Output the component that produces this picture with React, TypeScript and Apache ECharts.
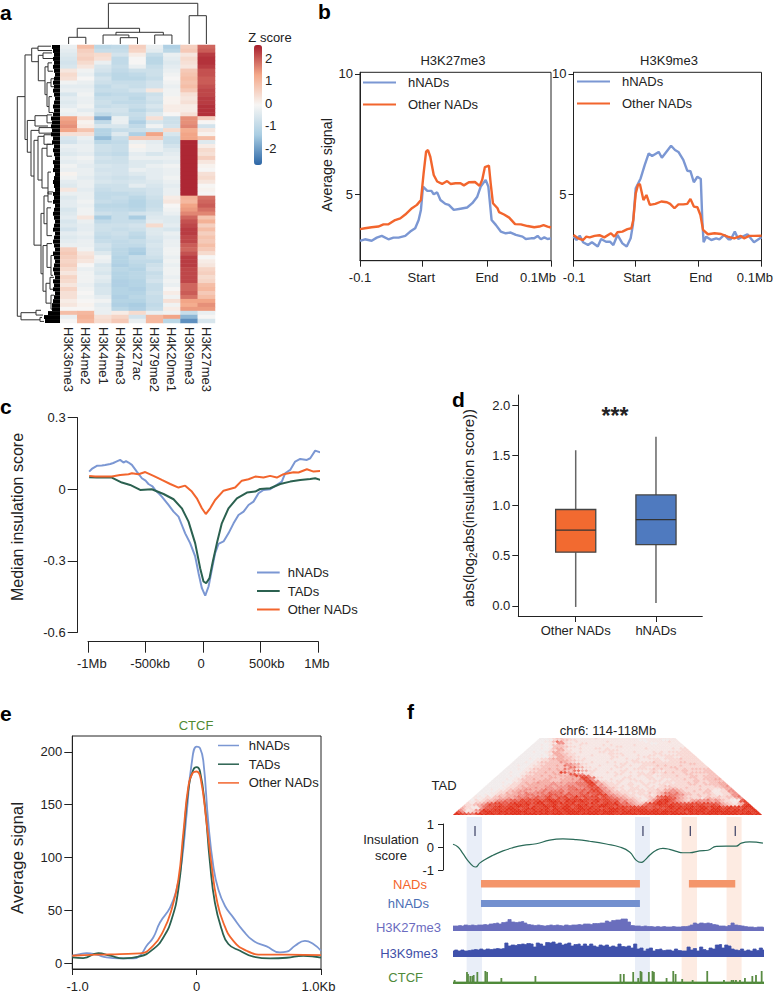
import React, { useEffect, useRef } from "react";
import * as echarts from "echarts";

const INK = "#222";
const FONT = "'Liberation Sans', Arial, sans-serif";
const HNAD_BLUE = "#7b97d3";
const NAD_ORANGE = "#f2652d";
const TAD_GREEN = "#2b6150";

// a: heat map
const histoneMarks = ["H3K36me3", "H3K4me2", "H3K4me1", "H3K4me3", "H3K27ac", "H3K79me2", "H4K20me1", "H3K9me3", "H3K27me3"];
const heatRows = [
  [-0.3, 0.9, -1.1, -1.0, 0.6, -0.3, -1.3, 0.6, 1.9],
  [-0.4, 0.6, -0.9, -0.9, 0.5, -0.4, -1.1, 0.7, 2.0],
  [-0.5, 0.5, 0.4, -0.7, 0.1, -0.9, -0.3, 0.2, 2.3],
  [-0.6, 0.6, 0.3, -1.0, -0.1, -1.1, -0.4, 0.4, 2.4],
  [-0.7, 0.4, -0.3, -1.0, -0.1, -1.1, -0.5, 0.3, 2.4],
  [-0.6, 0.2, -0.6, -0.9, -0.3, -0.9, -0.4, 0.2, 2.3],
  [0.2, -0.2, -0.7, -1.0, -0.8, -0.8, -0.3, 0.7, 2.1],
  [0.4, -0.3, -0.9, -1.1, -1.0, -0.8, -0.2, 0.8, 2.1],
  [0.3, -0.1, -0.7, -1.1, -1.1, -0.9, -0.1, 0.9, 2.0],
  [-0.2, -0.3, -0.8, -0.9, -0.9, -0.7, -0.2, 0.8, 2.0],
  [-0.4, -0.4, -1.0, -0.8, -0.9, -0.7, -0.3, 0.9, 2.1],
  [-0.3, -0.3, -0.9, -0.9, -0.7, 0.2, -0.2, 0.7, 2.2],
  [-0.6, -0.2, -1.1, -1.0, -1.0, -0.8, -0.2, 0.3, 2.2],
  [-0.4, -0.3, -0.9, -0.9, -1.1, -0.7, 0.0, 0.2, 2.3],
  [-0.5, -0.3, -0.8, -1.0, -1.0, -0.8, 0.0, 0.3, 2.3],
  [-0.4, -0.2, -0.9, -0.8, -0.9, -0.6, 0.1, 0.1, 2.4],
  [-0.2, -0.4, -0.7, -0.7, -1.1, -0.8, 0.1, 0.1, 2.4],
  [-0.3, -0.2, -1.0, -0.8, -0.9, -0.5, -0.1, 0.3, 2.4],
  [1.3, 0.3, -1.8, -0.3, -1.0, 0.3, -0.8, 1.5, 0.6],
  [1.4, 0.0, -1.0, -0.3, -1.3, -0.6, -0.8, 1.5, -0.1],
  [1.5, 0.1, -0.6, -0.6, -1.0, -0.2, -0.7, 1.6, -0.7],
  [1.3, 0.8, -1.2, -0.9, -0.8, -0.7, 0.4, 1.2, 0.2],
  [0.3, 0.3, -1.2, -0.5, -1.3, 1.3, -0.6, 1.3, 0.0],
  [-0.6, -0.3, -1.6, -0.9, 0.7, 0.7, -0.9, 1.3, 0.9],
  [-0.7, -0.4, -1.1, -1.0, -0.3, -0.4, -0.9, 2.5, -0.5],
  [-0.3, -0.3, -0.8, -0.9, 0.0, -0.3, -0.7, 2.5, 0.1],
  [-0.4, -0.3, -0.8, -0.9, -0.2, -0.3, -0.5, 2.5, 0.4],
  [-0.5, -0.4, -0.9, -1.0, -0.4, -0.6, -0.4, 2.5, 0.3],
  [-0.3, -0.2, -0.7, -0.8, -0.3, -0.3, -0.3, 2.5, 0.6],
  [-0.4, -0.3, -0.8, -0.8, -0.5, -0.5, -0.4, 2.5, 0.2],
  [-0.2, -0.4, -0.6, -0.7, -0.5, -0.3, -0.2, 2.5, 0.0],
  [-0.3, -0.3, -0.7, -0.7, -0.3, -0.4, -0.3, 2.5, -0.1],
  [0.0, -0.3, -0.6, -0.7, -0.5, -0.4, -0.3, 2.5, 0.3],
  [-0.2, -0.4, -0.7, -0.8, -0.7, -0.4, -0.2, 2.5, 0.4],
  [-0.4, -0.3, -0.6, -0.7, -0.6, -0.5, -0.3, 2.5, 0.2],
  [-0.5, -0.3, -0.8, -0.8, -0.4, -0.6, -0.4, 2.5, -0.1],
  [0.2, -0.4, -0.9, -0.8, -0.8, -0.7, -0.3, 2.5, 0.0],
  [-0.3, -0.3, -1.0, -1.0, -0.9, -0.7, -0.3, 2.5, -0.1],
  [-0.5, -0.3, -1.0, -0.9, -1.1, -0.8, 0.1, 1.1, 1.8],
  [-0.4, -0.2, -0.9, -1.0, -1.2, -0.9, 0.2, 1.0, 1.9],
  [-0.4, -0.3, -1.1, -1.1, -1.2, -0.9, -0.1, 1.3, 2.0],
  [-0.6, -0.2, -1.0, -1.0, -1.1, -0.8, -0.2, 1.4, 1.8],
  [-0.5, -0.2, -0.8, -0.9, -0.7, -0.6, -0.3, 1.6, 1.6],
  [-0.4, 0.2, -1.4, -0.9, -1.4, -0.5, -0.5, 1.9, 0.8],
  [-0.6, -0.3, -1.0, -0.9, -0.9, -0.4, -0.5, 2.1, 1.1],
  [-0.5, -0.4, -0.8, -0.8, -0.7, 0.4, -0.4, 2.2, 0.6],
  [-0.7, -0.4, -0.8, -0.9, -0.8, -0.5, -0.6, 2.3, 0.9],
  [-0.4, -0.3, -0.9, -0.8, -1.0, -0.5, -0.3, 2.3, 0.6],
  [-0.5, -0.4, -1.0, -0.9, -1.1, -0.6, -0.4, 2.2, 0.8],
  [-0.4, -0.3, -0.9, -1.0, -0.9, -0.7, -0.3, 2.2, 0.7],
  [-0.3, -0.3, -0.7, -1.0, -1.0, -0.6, -0.3, 2.0, 0.9],
  [0.6, -0.2, -0.8, -1.1, -1.3, -0.7, -0.2, 1.9, 0.7],
  [0.7, 0.2, -0.5, -1.1, -1.4, -0.7, -0.2, 2.1, 0.4],
  [0.6, 0.3, -0.2, -1.2, -0.9, -0.8, -0.3, 2.3, -0.1],
  [0.5, 0.2, -0.3, -1.2, -1.0, -1.0, -0.2, 2.3, 0.1],
  [0.6, -0.1, -0.6, -1.3, -1.1, -0.8, -0.3, 2.3, 0.2],
  [0.4, -0.3, -0.5, -1.1, -1.2, -0.7, -0.2, 2.2, 0.5],
  [0.2, -0.2, -0.6, -1.2, -1.1, -0.9, -0.2, 2.2, 0.6],
  [0.5, -0.2, -0.4, -1.2, -1.1, -0.8, -0.3, 2.2, 0.4],
  [0.4, -0.2, -0.5, -1.3, -1.2, -0.7, -0.2, 2.2, 0.5],
  [0.2, -0.3, -0.7, -1.3, -1.2, -0.9, -0.3, 1.9, 0.9],
  [0.5, -0.2, -0.6, -1.2, -1.3, -0.9, -0.1, 1.9, 1.0],
  [0.3, -0.1, -0.6, -1.2, -1.2, -0.8, 0.1, 2.0, 0.7],
  [0.3, -0.2, -0.4, -1.3, -1.1, -0.9, -0.2, 1.8, 0.9],
  [0.1, -0.1, -0.2, -1.2, -1.2, -0.9, 0.3, 1.3, 1.3],
  [0.2, 0.0, -0.4, -1.3, -1.4, -1.0, -0.2, 1.2, 1.5],
  [-0.1, -0.1, -0.3, -1.1, -1.3, -0.9, 0.1, 1.4, 1.4],
  [0.9, 1.0, -0.3, 0.1, 0.4, -0.3, -0.2, -0.9, -0.3],
  [-0.3, 1.1, 0.3, 0.5, -0.7, 1.0, 1.3, -1.7, -0.1],
  [-0.1, 1.0, 0.4, 0.7, -0.3, 1.0, -1.1, -2.2, -0.6],
];
const heatColors = ["#2c66a6", "#a9cde2", "#f7f6f4", "#f4a98a", "#a71d2d"];
const zScoreTicks = [-2, -1, 0, 1, 2];

// dendrogram brackets: [height, posA, posB, heightA, heightB]
const columnTree = [
  [6.7, 0.5, 1.5, 0, 0],
  [6.3, 3.5, 4.5, 0, 0],
  [9, 2.5, 4, 0, 6.3],
  [9, 5.5, 6.5, 0, 0],
  [11.7, 3.25, 6, 9, 9],
  [15.7, 1, 4.62, 6.7, 11.7],
  [28.3, 7.5, 8.5, 0, 0],
  [40.7, 2.81, 8, 15.7, 28.3],
];
const rowTree = [
  [42.7, 13, 68.3, 35, 39],
  [35, 2.5, 23.8, 28.3, 32.7],
  [28.3, 0.8, 4.2, 22, 21.7],
  [22, 0.3, 1.4, 9, 8],
  [21.7, 2.6, 9, 17, 15],
  [17, 2, 3.4, 8, 7],
  [15, 5.5, 12.5, 12, 13],
  [12, 4.5, 6.6, 8, 7],
  [13, 9.5, 15.5, 9, 11],
  [9, 8.5, 10.5, 6, 6],
  [11, 13, 17, 8, 7],
  [32.7, 19, 27, 25, 29],
  [25, 17.8, 20.4, 13, 12],
  [13, 17.6, 19.6, 8, 8],
  [29, 21.5, 33, 21, 26],
  [21, 20.8, 22.2, 9, 8],
  [26, 24, 50.4, 22, 19],
  [22, 23, 34, 16, 18],
  [16, 22.6, 25, 8, 9],
  [18, 26, 36, 13, 12],
  [13, 25, 28, 7, 8],
  [12, 32, 37.5, 9, 8],
  [19, 42.4, 57.6, 16, 17],
  [16, 38, 45, 12, 13],
  [12, 37, 39.5, 7, 8],
  [13, 41, 48, 9, 8],
  [17, 50.5, 62, 13, 14],
  [13, 50, 56, 8, 9],
  [9, 53, 58, 6, 7],
  [14, 60, 65, 10, 9],
  [10, 58.5, 61.5, 6, 7],
  [9, 63, 66.5, 6, 6],
  [39, 67.4, 69.2, 24, 20],
  [24, 66.8, 68, 19, 17],
  [20, 68.6, 69.6, 18, 16],
];
const leafDepth = [
  8, 7, 6, 7, 6, 7, 6, 5, 6, 7, 6, 7, 6, 5, 6, 7, 6, 7,
  9, 8, 9, 8, 9, 7, 8, 6, 7, 6, 5, 7, 6, 7, 5, 6, 7, 6, 5, 7,
  6, 7, 5, 6, 7, 6, 5, 6, 7, 5, 6, 7, 6, 5, 7, 6, 5, 6, 7, 6, 5, 7, 6, 7, 5, 6,
  7, 8, 8, 12, 16, 15,
];

// b: enrichment profiles, position in percent of the panel width
const bTicks = [0, 32.8, 66.4, 100];
const bLeftLabels = [0, 32.1, 66.5, 93.2];
const bRightLabels = [0.3, 33.7, 67.7, 96.5];
const bTickNames = ["-0.1", "Start", "End", "0.1Mb"];
const k27Hnads = [
  [0, 3.06], [2.6, 3.13], [6.1, 3.07], [8.8, 3.2], [11.4, 3.27], [14.9, 3.13], [17.5, 3.2], [20.2, 3.2],
  [23.7, 3.27], [26.3, 3.45], [28.9, 3.59], [30.7, 3.93], [31.9, 4.35], [33, 5.32], [35.1, 5.15], [37.4, 5.14],
  [38.6, 5.0], [40.4, 5.08], [42.1, 4.76], [44.7, 4.6], [46.5, 4.56], [49.1, 4.35], [52.6, 4.4], [56.1, 4.45],
  [58.8, 4.63], [61.4, 4.9], [63.2, 5.32], [65.8, 5.6], [67.2, 5.32], [68.9, 3.93], [71.1, 3.73], [73.7, 3.45],
  [76.3, 3.38], [78.9, 3.41], [81.6, 3.31], [85.1, 3.24], [86.8, 3.14], [89.5, 3.17], [91.2, 3.17], [93, 3.27],
  [94.7, 3.13], [96.5, 3.21], [98.2, 3.14], [100, 3.17],
];
const k27Other = [
  [0, 3.55], [2.6, 3.59], [6.1, 3.63], [9.6, 3.66], [12.3, 3.75], [14.9, 3.75], [18.4, 3.93], [21.1, 4.0],
  [23.7, 4.16], [27.2, 4.42], [29.8, 4.56], [31.9, 4.76], [33.3, 5.87], [34.6, 6.77], [35.6, 6.84], [36.8, 6.56],
  [38.6, 5.8], [40.4, 5.53], [43, 5.43], [45.6, 5.55], [47.4, 5.43], [50, 5.46], [52.6, 5.46], [54.4, 5.37],
  [57, 5.5], [60.2, 5.51], [62.6, 5.35], [64, 5.6], [65.4, 6.13], [67.5, 6.19], [68.4, 5.46], [69.6, 4.63],
  [72, 4.42], [72.8, 4.26], [75.4, 4.16], [78.1, 4.03], [81.2, 3.76], [84.2, 3.75], [87.7, 3.68], [91.2, 3.63],
  [93.9, 3.66], [96.1, 3.72], [98.2, 3.66], [100, 3.62],
];
const k9Hnads = [
  [0, 3.24], [1.6, 3.1], [3.3, 3.28], [5.1, 3.01], [7.7, 2.89], [9.8, 3.01], [12.9, 2.83], [14.7, 3.14],
  [17.3, 3.03], [19.4, 3.03], [21.2, 2.89], [23.4, 3.31], [26, 2.96], [28.3, 2.83], [30.4, 3.17], [31.6, 3.73],
  [33.1, 5.25], [35.7, 5.66], [37.9, 6.22], [40, 6.7], [41.8, 6.59], [45.3, 6.76], [47, 6.52], [51.9, 7.02],
  [54, 6.84], [55.8, 6.76], [58.4, 6.43], [60.5, 5.98], [62.2, 5.96], [64, 5.5], [65.9, 5.73], [67.7, 5.64],
  [68.5, 3.93], [69.2, 3.01], [70.6, 3.24], [73.3, 3.1], [75.9, 3.17], [77.6, 3.13], [80.2, 3.31], [82.5, 3.13],
  [83.7, 3.13], [85.8, 3.45], [87.6, 3.14], [89.9, 3.24], [92.5, 3.34], [96, 3.01], [100, 3.21],
];
const k9Other = [
  [0, 3.31], [2.4, 3.17], [5.1, 3.1], [6.8, 3.24], [8.6, 3.21], [11.2, 3.27], [13.8, 3.3], [16.4, 3.21],
  [19.9, 3.38], [21.7, 3.24], [23.4, 3.42], [26, 3.45], [28.7, 3.55], [30.8, 3.59], [31.8, 3.93], [33.1, 5.04],
  [34.3, 5.39], [35.3, 5.43], [37.2, 4.76], [38.8, 4.97], [40.6, 4.56], [43.5, 4.6], [46.7, 4.7], [49.7, 4.67],
  [51.4, 4.6], [53.7, 4.42], [55.8, 4.58], [58.4, 4.58], [60.5, 4.6], [62.2, 4.81], [64, 4.49], [65.9, 4.46],
  [67.5, 4.14], [68.9, 3.52], [71.5, 3.34], [75, 3.38], [78.5, 3.35], [82, 3.24], [85.5, 3.17], [89, 3.27],
  [90.7, 3.17], [93.4, 3.27], [96, 3.27], [100, 3.28],
];

// c: median insulation score, position in kb
const cTicks = [-1000, -500, 0, 500, 1000];
const cLabelPositions = [-967, -460, -17, 553, 987];
const cLabelNames = ["-1Mb", "-500kb", "0", "500kb", "1Mb"];
const insulationHnads = [
  [-990, 0.074], [-967, 0.085], [-923, 0.098], [-880, 0.1], [-851, 0.102], [-807, 0.106], [-780, 0.11], [-764, 0.114],
  [-721, 0.123], [-692, 0.112], [-670, 0.118], [-648, 0.112], [-619, 0.102], [-576, 0.074], [-532, 0.046], [-500, 0.036],
  [-475, 0.022], [-440, 0.012], [-417, -0.003], [-380, -0.02], [-359, -0.031], [-301, -0.066], [-257, -0.094], [-214, -0.115],
  [-185, -0.15], [-156, -0.185], [-113, -0.226], [-69, -0.282], [-40, -0.352], [-11, -0.415], [18, -0.446], [47, -0.408],
  [75, -0.338], [104, -0.268], [133, -0.229], [177, -0.219], [220, -0.185], [264, -0.143], [307, -0.108], [351, -0.094],
  [394, -0.066], [437, -0.052], [481, -0.017], [524, -0.003], [582, 0], [640, 0.018], [683, 0.032], [712, 0.067],
  [756, 0.081], [799, 0.116], [843, 0.127], [901, 0.123], [930, 0.13], [973, 0.162], [1016, 0.155],
];
const insulationTads = [
  [-990, 0.05], [-923, 0.049], [-793, 0.049], [-706, 0.028], [-634, 0.018], [-547, -0.003], [-446, 0], [-344, -0.02],
  [-257, -0.042], [-185, -0.08], [-127, -0.136], [-69, -0.227], [-26, -0.331], [3, -0.387], [26, -0.394], [55, -0.373],
  [84, -0.303], [119, -0.227], [162, -0.143], [220, -0.08], [293, -0.038], [380, -0.014], [452, -0.01], [495, 0.001],
  [582, 0.004], [669, 0.022], [756, 0.032], [843, 0.039], [930, 0.043], [973, 0.046], [1022, 0.039],
];
const insulationOther = [
  [-990, 0.056], [-938, 0.053], [-793, 0.053], [-721, 0.06], [-648, 0.063], [-619, 0.067], [-561, 0.063], [-503, 0.072],
  [-431, 0.056], [-359, 0.039], [-286, 0.022], [-214, 0.007], [-156, 0.015], [-98, -0.01], [-55, -0.038], [-11, -0.08],
  [23, -0.104], [61, -0.08], [104, -0.045], [177, -0.006], [278, 0.007], [336, 0.036], [394, 0.042], [452, 0.053],
  [524, 0.049], [582, 0.056], [640, 0.049], [698, 0.063], [785, 0.071], [828, 0.07], [901, 0.084], [959, 0.074], [1022, 0.077],
];
const cScoreTicks = [-0.6, -0.3, 0, 0.3];

// d: box plots [category, min, q1, median, q3, max]
const boxNames = ["Other NADs", "hNADs"];
const boxStats = [
  [1, -0.01, 0.535, 0.755, 0.96, 1.55],
  [2, 0.03, 0.61, 0.86, 1.105, 1.685],
];
const boxColors = ["#f26a30", "#4f7abf"];
const dTicks = [0, 0.5, 1, 1.5, 2];

// e: CTCF profiles, position in kb
const eYTicks = [0, 50, 100, 150, 200];
const eXTicks = [-1, 0, 1];
const eLabelPositions = [-0.957, 0, 0.979];
const eLabelNames = ["-1.0", "0", "1.0Kb"];
const ctcfHnads = [
  [-1, 6.9], [-0.938, 8.5], [-0.885, 9.4], [-0.804, 7.9], [-0.724, 5.3], [-0.617, 4.4], [-0.509, 4.4], [-0.456, 6.9],
  [-0.402, 16.4], [-0.349, 24.2], [-0.295, 38.4], [-0.214, 52.5], [-0.161, 69.8], [-0.121, 95], [-0.08, 142], [-0.04, 189],
  [0, 205], [0.027, 203.5], [0.054, 191], [0.094, 132.7], [0.134, 91.8], [0.174, 69.8], [0.228, 54], [0.295, 43],
  [0.375, 30.5], [0.456, 21], [0.563, 15.7], [0.67, 10], [0.724, 10.7], [0.791, 16.4], [0.871, 21], [0.938, 18], [1, 11.6],
];
const ctcfTads = [
  [-1, 5.3], [-0.912, 4.7], [-0.791, 9.4], [-0.697, 6.9], [-0.59, 4.4], [-0.456, 6.3], [-0.349, 13.2], [-0.268, 24.2],
  [-0.201, 41.5], [-0.147, 69.8], [-0.107, 117], [-0.067, 164], [-0.027, 183], [0, 185.5], [0.027, 181.5], [0.067, 148.4],
  [0.107, 95], [0.147, 57], [0.201, 32], [0.255, 18], [0.349, 11.6], [0.456, 6], [0.59, 4.4], [0.724, 5], [0.858, 6.9], [1, 5],
];
const ctcfOther = [
  [-1, 6.9], [-0.804, 7.9], [-0.617, 8.5], [-0.456, 9.1], [-0.349, 16.4], [-0.268, 30.5], [-0.201, 51], [-0.147, 79],
  [-0.107, 123.3], [-0.067, 167], [-0.032, 180], [0, 181.4], [0.032, 175], [0.08, 132.7], [0.121, 91.8], [0.161, 60.4],
  [0.214, 38.4], [0.295, 21], [0.402, 11.6], [0.536, 7.9], [0.724, 7.9], [1, 7.5],
];

// f: contact map, one string per distance from the diagonal, digits are contact strength
const contactRows = [
  "9988768998 9889899999 9998989988 9999899998 9989889999 9899999999 9989889899 9999989999",
  "9876689899 8989999899 9899899989 9989999899 9889999899 9999989999 8998999989 999899989",
  "7512348998 8998999988 9989889899 9988999899 9989988999 9989999887 9899899999 99988989",
  "5312569889 9899998989 8998998999 8999899989 9898999998 9989889899 9999899989 8999889",
  "4221157788 8899878998 8897989988 9989887899 9887888877 8878989899 8899799889 887989",
  "3211467789 8898988798 8989889978 9889899887 8988878878 7889989889 8998989789 89899",
  "2234568778 7889989788 9889789889 8978899889 7665446778 9889887887 8877875432 2489",
  "2133467887 7898898899 7898988978 8898789897 6754336889 9978877788 7887764321 348",
  "1122344667 6778887898 8998798989 8789788785 6443223479 8976543456 5554532211 78",
  "0212334556 7768788878 9887898898 8898887765 5432113578 9875432445 5645432101 7",
  "1012233445 4566767668 7687878768 7787876654 3322123467 8775433221 3433223245",
  "1102134344 5656567678 6778679787 8868765443 2211232678 7654322232 322323356",
  "0010123344 4556655667 7667766776 7888554332 2122212345 6655332322 32112255",
  "0001122434 5465566576 6757667687 7865433221 2221323466 5643322233 2112245",
  "0000122344 5544556566 6656667678 8755332222 1222223345 5432232233 112255",
  "0010112334 4554456555 6566767688 7543212122 2212232445 4322223232 11245",
  "0000012233 4445445545 5566556778 5533221122 1122122233 2232222222 2344",
  "0000112234 3444455455 5665667875 4322121212 1212123322 2222232223 345",
  "0000012233 4444445544 5556668845 3222112211 2211221222 2233223333 44",
  "0001002234 3454445454 5566689643 2212112112 1221122122 2323232334 4",
  "0000011233 3344433344 4455885522 1122111221 1122122222 2233223333",
  "0001012333 4334433444 5468752111 2112122111 2212112223 223233344",
  "0000011233 3333443344 4488662211 1112211112 2112222222 33223333",
  "0001002333 3434334445 8776211111 2111212122 1222223222 3323333",
  "0000011223 3333443377 5522111111 2211112222 1122222233 222233",
  "0010012333 3434387542 1112111212 1212122123 2232322323 33333",
  "0000011223 3333443366 4422111111 2211111122 1122223322 2233",
  "0001012333 3434365421 1112111211 1212222232 3222323233 333",
  "0000011223 3333336644 2211111122 1111221122 2233222222 22",
  "0010012233 3343654321 1112111212 1211222232 3222322222 2",
  "0000011223 3333554422 1111111122 1111222222 2222223322",
  "0001012333 3354321111 2111212112 1222223222 222332222",
  "0000011223 3444332211 1111111111 2211112211 22222222",
  "0001012234 4433211211 1111211121 1211222122 2232222",
  "0000000022 4433221111 1111221111 1122111122 112222",
  "0000010234 4322111121 1112112111 2112212222 22222",
  "0000001144 3322111111 1122221111 1111221111 2222",
  "0010012443 2211211112 2121111121 1112121222 222",
  "0000002244 2211111111 2222111111 1111111111 22",
  "0001013442 1112111221 2111111111 2111111212 2",
  "0000003333 2211111111 1122111111 1111111111",
  "0010133321 1121111121 2111112111 111111111",
  "0000115522 1122111111 1111111111 00111111",
  "0011365211 2111111121 1111111101 1111211",
  "0000223322 1111111111 1111110011 110011",
  "0012332211 1111211111 1111101111 01111",
];
const contactColors = ["#f1ecec", "#f6e6e4", "#f8d8d4", "#f7c3bd", "#f4aca4", "#f0918a", "#ec7568", "#e85a4b", "#e5432f", "#e1301c"];

// f: tracks over 4 Mb, position in kb
const boundaryBands = [
  [176, 374, 0],
  [2348, 2541, 0],
  [2950, 3148, 1],
  [3530, 3724, 1],
];
const bandColors = ["#e9eef8", "#fdebe2"];
const boundaryMarks = [284, 2451, 3062, 3642];
const nadIntervals = [[361, 2412], [3044, 3642]];
const hnadIntervals = [[361, 2412]];
const insulationTrack = [
  [0, 0.12], [65, 0], [129, -0.29], [194, -0.6], [258, -0.83], [292, -0.87], [344, -0.7], [409, -0.55], [516, -0.36],
  [645, -0.17], [774, -0.03], [903, 0.07], [1075, 0.14], [1247, 0.3], [1419, 0.35], [1591, 0.32], [1763, 0.25], [1978, 0.13],
  [2150, 0], [2279, -0.22], [2365, -0.58], [2430, -0.67], [2473, -0.58], [2537, -0.36], [2623, -0.14], [2709, -0.06],
  [2795, -0.1], [2881, -0.19], [2967, -0.25], [3053, -0.25], [3182, -0.17], [3290, -0.14], [3397, 0.03], [3526, 0.04],
  [3655, 0.04], [3720, 0.17], [3827, 0.22], [3999, 0.17],
];
const k27Track = [
  5, 5, 5.5, 5, 6, 5.5, 6, 5.5, 6, 6, 6.5, 6,
  7, 7.5, 8, 7, 8.5, 9,
  11.5, 9, 8.5, 9, 9.5, 8,
  6.5, 6, 5.5, 6, 5.5, 5, 5.5, 6, 5.5, 6, 5.5, 5, 6, 5.5, 6, 6,
  6.5, 6, 7, 7, 6.5, 7.5, 7.5, 8, 8,
  10, 9, 10.5, 11, 11, 12, 12,
  9, 5.5, 5, 5, 4.5, 5, 4.5, 4.5, 4, 4.5, 4, 4.5, 4, 4, 4.5, 4, 4, 4.5,
  4.5, 5, 6, 8, 7,
  8, 7.5, 8, 7.5, 6.5, 6,
  5, 5, 4.5, 5.5, 8, 6,
  5.5, 5, 4.5, 4, 4, 3.5, 4, 4, 3.5,
];
const k9Track = [
  6, 7, 6, 7, 6,
  6.5, 7, 7.5, 7, 8, 7, 8, 7.5, 8, 8.5, 8,
  8.5, 14,
  11, 12, 11.5, 12.5, 13, 12.5, 13.5, 13,
  10, 14, 13, 11, 14.5, 14, 15, 13, 14, 12, 13, 14, 11, 12.5,
  13, 11, 13, 11, 13, 11, 10, 12, 11, 12, 10, 11, 10,
  13, 10.5, 10, 11, 9, 13, 8, 9, 6, 8,
  9, 6, 7.5, 8, 6.5, 7, 7, 6, 8, 6.5,
  6, 6, 10, 7, 8.5, 6, 10, 7.5, 6.5, 9, 8,
  12, 12.5, 9, 12, 11, 8, 7,
  6.5, 8, 6, 7, 6, 8, 6.5, 9, 7,
];
const ctcfPeaks = [
  [21, 4], [180, 12], [193, 10], [223, 8], [249, 8], [266, 9], [313, 12], [416, 13], [438, 12], [622, 6], [1060, 8],
  [2154, 10], [2197, 10], [2318, 12], [2382, 6], [2412, 13], [2425, 12], [2519, 12], [2566, 13], [2584, 12], [2747, 6],
  [2833, 13], [2863, 10], [2948, 5], [3082, 4], [3270, 13], [3485, 4], [3584, 4], [3605, 4], [3639, 4], [3691, 4],
  [3755, 6], [3850, 8], [3897, 9], [3970, 13],
];
const ctcfBaseline = [[0, 2], [4000, 2]];

const labelAt = (values: number[], names: string[]) => (v: number) => names[values.indexOf(v)] ?? "";
const alongTrack = (vals: number[]) => vals.map((v, i) => [(i * 4000) / (vals.length - 1), v]);

const visibleAxis = (gridIndex: number, extra: any) => ({
  type: "value",
  gridIndex,
  splitLine: { show: false },
  axisLine: { show: true, onZero: false, lineStyle: { color: INK, width: 1 } },
  axisTick: { show: true, length: 5, lineStyle: { color: INK, width: 1 } },
  axisLabel: { color: INK, fontSize: 13, fontFamily: FONT, margin: 5 },
  ...extra,
});
const hiddenAxis = (gridIndex: number, min: number, max: number, inverse = false) => ({
  type: "value",
  gridIndex,
  min,
  max,
  inverse,
  show: false,
});

const bracketRender = (upright: boolean) => (_: any, api: any) => {
  const [h, a, b, ha, hb] = [0, 1, 2, 3, 4].map((d) => api.value(d));
  const at = (pos: number, height: number) => (upright ? api.coord([pos, height]) : api.coord([height, pos]));
  return {
    type: "polyline",
    shape: { points: [at(a, ha), at(a, h), at(b, h), at(b, hb)] },
    style: { fill: "none", stroke: "#333", lineWidth: 1 },
  };
};

const lineSeries = (name: string, data: number[][], color: string, width: number, axis: number, extra: any = {}) => ({
  type: "line",
  name,
  data,
  xAxisIndex: axis,
  yAxisIndex: axis,
  symbol: "none",
  clip: false,
  lineStyle: { color, width },
  itemStyle: { color },
  z: 3,
  silent: true,
  ...extra,
});

const lineLegend = (names: string[], left: number, top: number, itemWidth: number, itemGap: number, pad: number, width: number) => ({
  data: names,
  left,
  top,
  orient: "vertical",
  padding: 0,
  icon: "rect",
  itemWidth,
  itemHeight: width,
  itemGap,
  selectedMode: false,
  textStyle: { color: INK, fontSize: 13, fontFamily: FONT, padding: [0, 0, 0, pad] },
});

const text = (t: string, x: number, y: number, extra: any = {}, rotation = 0) => ({
  type: "text",
  x,
  y,
  rotation,
  silent: true,
  style: {
    text: t,
    fill: INK,
    font: `13px ${FONT}`,
    textAlign: "center",
    textVerticalAlign: "middle",
    ...extra,
  },
});

const panelLetter = (t: string, x: number, y: number) =>
  text(t, x, y, { font: `bold 21px ${FONT}`, fill: "#000", textAlign: "left" });

const App = () => {
  const chartRef = useRef<HTMLDivElement | null>(null);

  useEffect(() => {
    if (!chartRef.current) return;
    const chart = echarts.init(chartRef.current, undefined, { renderer: "svg" });

    const heatData: number[][] = [];
    heatRows.forEach((row, r) => row.forEach((v, c) => heatData.push([c, r, v])));

    const contactData: number[][] = [];
    contactRows.forEach((row, d) =>
      row
        .replace(/ /g, "")
        .split("")
        .forEach((ch, i) => contactData.push([i, d, Number(ch)]))
    );

    const option = {
      animation: false,
      textStyle: { fontFamily: FONT },
      grid: [
        { left: 60, top: 45, width: 155, height: 278 }, // 0 heat map
        { left: 10, top: 45, width: 50, height: 278 }, // 1 row tree
        { left: 60, top: 2, width: 155, height: 42 }, // 2 column tree
        { left: 262, top: 45, width: 1, height: 120 }, // 3 colour bar labels
        { left: 360, top: 72.3, width: 191, height: 188.4, show: true, borderColor: INK, borderWidth: 1 }, // 4
        { left: 573.5, top: 72.3, width: 191, height: 188.4, show: true, borderColor: INK, borderWidth: 1 }, // 5
        { left: 88, top: 417.7, width: 230.3, height: 214.6 }, // 6
        { left: 518.3, top: 395, width: 184, height: 221 }, // 7
        { left: 72.3, top: 736, width: 248.7, height: 234, show: true, borderColor: INK, borderWidth: 1 }, // 8
        { left: 453, top: 738, width: 309, height: 77 }, // 9 contact map
        { left: 453, top: 817, width: 310, height: 166 }, // 10 bands and intervals
        { left: 453, top: 824, width: 310, height: 46 }, // 11 insulation
        { left: 453, top: 915, width: 311, height: 16 }, // 12
        { left: 453, top: 937, width: 311, height: 20 }, // 13
        { left: 453, top: 968, width: 311, height: 16 }, // 14
      ],
      xAxis: [
        {
          type: "category",
          gridIndex: 0,
          data: histoneMarks,
          axisLine: { show: false },
          axisTick: { show: false },
          axisLabel: { rotate: -90, interval: 0, color: INK, fontSize: 13, fontFamily: FONT, margin: 4 },
        },
        hiddenAxis(1, 0, 50, true),
        hiddenAxis(2, 0, 9),
        hiddenAxis(3, 0, 1),
        visibleAxis(4, {
          min: 0,
          max: 100,
          axisTick: { show: true, length: 6, customValues: bTicks, lineStyle: { color: INK } },
          axisLabel: {
            color: INK, fontSize: 13, fontFamily: FONT, margin: 10,
            customValues: bLeftLabels,
            formatter: labelAt(bLeftLabels, bTickNames),
          },
        }),
        visibleAxis(5, {
          min: 0,
          max: 100,
          axisTick: { show: true, length: 6, customValues: bTicks, lineStyle: { color: INK } },
          axisLabel: {
            color: INK, fontSize: 13, fontFamily: FONT, margin: 10,
            customValues: bRightLabels,
            formatter: labelAt(bRightLabels, bTickNames),
          },
        }),
        visibleAxis(6, {
          min: -1000,
          max: 1000,
          offset: 9.4,
          axisTick: { show: true, length: 11, customValues: cTicks, lineStyle: { color: INK } },
          axisLabel: {
            color: INK, fontSize: 13, fontFamily: FONT, margin: 15,
            customValues: cLabelPositions,
            formatter: labelAt(cLabelPositions, cLabelNames),
          },
        }),
        visibleAxis(7, {
          min: 0.285,
          max: 2.577,
          axisTick: { show: true, length: 6, customValues: [1, 2], lineStyle: { color: INK } },
          axisLabel: {
            color: INK, fontSize: 13, fontFamily: FONT, margin: 8,
            customValues: [1, 2],
            formatter: labelAt([1, 2], boxNames),
          },
        }),
        visibleAxis(8, {
          min: -1,
          max: 1,
          axisTick: { show: true, length: 6, customValues: eXTicks, lineStyle: { color: INK } },
          axisLabel: {
            color: INK, fontSize: 13, fontFamily: FONT, margin: 11,
            customValues: eLabelPositions,
            formatter: labelAt(eLabelPositions, eLabelNames),
          },
        }),
        hiddenAxis(9, 0, 80),
        hiddenAxis(10, 0, 4000),
        hiddenAxis(11, 0, 4000),
        hiddenAxis(12, 0, 4000),
        hiddenAxis(13, 0, 4000),
        hiddenAxis(14, 0, 4000),
      ],
      yAxis: [
        {
          type: "category",
          gridIndex: 0,
          inverse: true,
          show: false,
          data: heatRows.map((_, i) => String(i)),
        },
        hiddenAxis(1, 0, 70, true),
        hiddenAxis(2, 0, 42),
        visibleAxis(3, {
          min: -2.75,
          max: 2.6,
          position: "right",
          axisLine: { show: false },
          axisTick: { show: false },
          axisLabel: { color: INK, fontSize: 13, fontFamily: FONT, margin: 2, customValues: zScoreTicks },
        }),
        visibleAxis(4, {
          min: 2.24,
          max: 10.07,
          axisTick: { show: true, length: 5, customValues: [5, 10], lineStyle: { color: INK } },
          axisLabel: { color: INK, fontSize: 13, fontFamily: FONT, margin: 7, customValues: [5, 10] },
        }),
        visibleAxis(5, {
          min: 2.24,
          max: 10.07,
          axisTick: { show: true, length: 5, customValues: [5, 10], lineStyle: { color: INK } },
          axisLabel: { color: INK, fontSize: 13, fontFamily: FONT, margin: 7, customValues: [5, 10] },
        }),
        visibleAxis(6, {
          min: -0.6,
          max: 0.3,
          offset: 10.3,
          axisTick: { show: true, length: 10, customValues: cScoreTicks, lineStyle: { color: INK } },
          axisLabel: { color: INK, fontSize: 13, fontFamily: FONT, margin: 12, customValues: cScoreTicks },
        }),
        visibleAxis(7, {
          min: -0.1,
          max: 2.1,
          axisTick: { show: true, length: 6, customValues: dTicks, lineStyle: { color: INK } },
          axisLabel: {
            color: INK, fontSize: 13, fontFamily: FONT, margin: 8,
            customValues: dTicks,
            formatter: (v: number) => v.toFixed(1),
          },
        }),
        visibleAxis(8, {
          min: -5.66,
          max: 215,
          axisTick: { show: true, length: 8, customValues: eYTicks, lineStyle: { color: INK } },
          axisLabel: { color: INK, fontSize: 13, fontFamily: FONT, margin: 10, customValues: eYTicks },
        }),
        hiddenAxis(9, 0, 45),
        hiddenAxis(10, 0, 166, true),
        visibleAxis(11, {
          min: -1,
          max: 1,
          offset: 10,
          axisTick: { show: true, length: 5, customValues: [-1, 0, 1], lineStyle: { color: INK } },
          axisLabel: { color: INK, fontSize: 13, fontFamily: FONT, margin: 9, customValues: [-1, 0, 1] },
        }),
        hiddenAxis(12, 0, 16),
        hiddenAxis(13, 0, 20),
        hiddenAxis(14, 0, 16),
      ],
      visualMap: {
        type: "continuous",
        seriesIndex: 0,
        min: -2.75,
        max: 2.6,
        left: 254,
        top: 45,
        padding: 0,
        itemWidth: 8,
        itemHeight: 120,
        calculable: false,
        realtime: false,
        inRange: { color: heatColors },
      },
      legend: [
        lineLegend(["hNADs", "Other NADs"], 363, 76, 33, 9, 7, 2),
        lineLegend(["hNADs", "Other NADs"], 577, 75, 33, 9, 7, 2),
        lineLegend(["hNADs", "TADs", "Other NADs"], 257, 566, 22.7, 5.5, 3, 2),
        lineLegend(["hNADs", "TADs", "Other NADs"], 218, 739, 21, 5.7, 4.7, 1.5),
      ],
      series: [
        {
          type: "heatmap",
          data: heatData,
          xAxisIndex: 0,
          yAxisIndex: 0,
          silent: true,
          itemStyle: { borderWidth: 0 },
        },
        {
          type: "custom",
          xAxisIndex: 1,
          yAxisIndex: 1,
          silent: true,
          data: rowTree,
          renderItem: bracketRender(false),
        },
        {
          type: "custom",
          xAxisIndex: 1,
          yAxisIndex: 1,
          silent: true,
          data: leafDepth.map((d, r) => [r, d]),
          renderItem: (_: any, api: any) => {
            const a = api.coord([0, api.value(0)]);
            const b = api.coord([api.value(1), api.value(0) + 1]);
            return {
              type: "rect",
              shape: { x: b[0], y: a[1], width: a[0] - b[0], height: b[1] - a[1] },
              style: { fill: "#000" },
            };
          },
        },
        {
          type: "custom",
          xAxisIndex: 2,
          yAxisIndex: 2,
          silent: true,
          data: columnTree,
          renderItem: bracketRender(true),
        },
        lineSeries("hNADs", k27Hnads, HNAD_BLUE, 2.4, 4),
        lineSeries("Other NADs", k27Other, NAD_ORANGE, 2.4, 4),
        lineSeries("hNADs", k9Hnads, HNAD_BLUE, 2.4, 5),
        lineSeries("Other NADs", k9Other, NAD_ORANGE, 2.4, 5),
        lineSeries("hNADs", insulationHnads, HNAD_BLUE, 2, 6),
        lineSeries("TADs", insulationTads, TAD_GREEN, 2, 6),
        lineSeries("Other NADs", insulationOther, NAD_ORANGE, 2, 6),
        {
          type: "custom",
          xAxisIndex: 7,
          yAxisIndex: 7,
          silent: true,
          data: boxStats,
          renderItem: (params: any, api: any) => {
            const pos = api.value(0);
            const [lo, q1, med, q3, hi] = [1, 2, 3, 4, 5].map((d) => api.value(d));
            const tl = api.coord([pos - 0.25, q3]);
            const br = api.coord([pos + 0.25, q1]);
            const medL = api.coord([pos - 0.25, med]);
            const medR = api.coord([pos + 0.25, med]);
            const whisker = (from: number, to: number) => {
              const p0 = api.coord([pos, from]);
              const p1 = api.coord([pos, to]);
              return {
                type: "line",
                shape: { x1: p0[0], y1: p0[1], x2: p1[0], y2: p1[1] },
                style: { stroke: "#666", lineWidth: 1.5 },
              };
            };
            return {
              type: "group",
              children: [
                whisker(lo, q1),
                whisker(q3, hi),
                {
                  type: "rect",
                  shape: { x: tl[0], y: tl[1], width: br[0] - tl[0], height: br[1] - tl[1] },
                  style: { fill: boxColors[params.dataIndex], stroke: "#444", lineWidth: 1.3 },
                },
                {
                  type: "line",
                  shape: { x1: medL[0], y1: medL[1], x2: medR[0], y2: medR[1] },
                  style: { stroke: "#333", lineWidth: 1.3 },
                },
              ],
            };
          },
        },
        lineSeries("hNADs", ctcfHnads, HNAD_BLUE, 1.8, 8, { smooth: true }),
        lineSeries("TADs", ctcfTads, TAD_GREEN, 1.8, 8, { smooth: true }),
        lineSeries("Other NADs", ctcfOther, NAD_ORANGE, 1.8, 8, { smooth: true }),
        {
          type: "custom",
          xAxisIndex: 9,
          yAxisIndex: 9,
          silent: true,
          clip: true,
          data: contactData,
          renderItem: (_: any, api: any) => {
            const i = api.value(0);
            const d = api.value(1);
            const cx = i + d / 2 + 0.5;
            const color = contactColors[api.value(2)];
            return {
              type: "polygon",
              shape: {
                points: [
                  api.coord([cx - 0.5, d]),
                  api.coord([cx, d + 1]),
                  api.coord([cx + 0.5, d]),
                  api.coord([cx, d - 1]),
                ],
              },
              style: { fill: color, stroke: color, lineWidth: 0.3 },
            };
          },
        },
        {
          type: "custom",
          xAxisIndex: 10,
          yAxisIndex: 10,
          silent: true,
          z: 1,
          data: boundaryBands,
          renderItem: (_: any, api: any) => {
            const a = api.coord([api.value(0), 0]);
            const b = api.coord([api.value(1), 166]);
            return {
              type: "rect",
              shape: { x: a[0], y: a[1], width: b[0] - a[0], height: b[1] - a[1] },
              style: { fill: bandColors[api.value(2)] },
            };
          },
        },
        {
          type: "custom",
          xAxisIndex: 10,
          yAxisIndex: 10,
          silent: true,
          z: 2,
          data: boundaryMarks.map((kb) => [kb]),
          renderItem: (_: any, api: any) => {
            const a = api.coord([api.value(0), 9]);
            const b = api.coord([api.value(0), 19]);
            return {
              type: "line",
              shape: { x1: a[0], y1: a[1], x2: b[0], y2: b[1] },
              style: { stroke: "#3a3f63", lineWidth: 1.2 },
            };
          },
        },
        {
          type: "custom",
          xAxisIndex: 10,
          yAxisIndex: 10,
          silent: true,
          z: 2,
          data: [
            ...nadIntervals.map(([s, e]) => [s, e, 63, 70.5, 0]),
            ...hnadIntervals.map(([s, e]) => [s, e, 83, 90, 1]),
          ],
          renderItem: (_: any, api: any) => {
            const a = api.coord([api.value(0), api.value(2)]);
            const b = api.coord([api.value(1), api.value(3)]);
            return {
              type: "rect",
              shape: { x: a[0], y: a[1], width: b[0] - a[0], height: b[1] - a[1] },
              style: { fill: api.value(4) === 0 ? "#f4956a" : "#7390cf" },
            };
          },
        },
        lineSeries("", insulationTrack, "#2a6a58", 1.2, 11, { smooth: true, clip: true }),
        lineSeries("", alongTrack(k27Track), "#6a6ebd", 0.8, 12, {
          step: "middle",
          areaStyle: { color: "#6a6ebd", opacity: 1 },
        }),
        lineSeries("", alongTrack(k9Track), "#3f51ab", 0.8, 13, {
          step: "middle",
          areaStyle: { color: "#3f51ab", opacity: 1 },
        }),
        {
          type: "bar",
          data: ctcfPeaks,
          xAxisIndex: 14,
          yAxisIndex: 14,
          barWidth: 1.8,
          silent: true,
          z: 3,
          itemStyle: { color: "#5a8c44" },
        },
        lineSeries("", ctcfBaseline, "#4f8a3a", 0.8, 14, {
          areaStyle: { color: "#4f8a3a", opacity: 1 },
        }),
      ],
      graphic: {
        elements: [
          panelLetter("a", 0, 12),
          panelLetter("b", 318, 11),
          panelLetter("c", 0, 406),
          panelLetter("d", 452, 399),
          panelLetter("e", 0, 713),
          panelLetter("f", 407, 711),
          text("Z score", 270, 37),
          text("H3K27me3", 453, 60),
          text("H3K9me3", 669, 60),
          text("Average signal", 327, 165, { font: `14.2px ${FONT}` }, Math.PI / 2),
          text("Median insulation score", 17, 517, { font: `16px ${FONT}` }, Math.PI / 2),
          text(
            "{a|abs(log}{b|2}{a|abs(insulation score))}",
            468,
            508,
            {
              font: `15px ${FONT}`,
              rich: {
                a: { fontSize: 15, fontFamily: FONT, fill: INK, lineHeight: 20 },
                b: { fontSize: 10, fontFamily: FONT, fill: INK, verticalAlign: "bottom", lineHeight: 14 },
              },
            },
            Math.PI / 2
          ),
          text("***", 615, 416, { font: `bold 23px ${FONT}` }),
          text("CTCF", 196, 725, { fill: "#4f8a32" }),
          text("Average signal", 17.5, 858, { font: `17px ${FONT}` }, Math.PI / 2),
          text("chr6: 114-118Mb", 608, 730),
          text("TAD", 444, 785),
          text("Insulation", 391, 839),
          text("score", 391, 855),
          text("NADs", 427, 884, { textAlign: "right", fill: "#f4642a" }),
          text("hNADs", 429, 903, { textAlign: "right", fill: "#4a6eb5" }),
          text("H3K27me3", 441, 927, { textAlign: "right", fill: "#6b6bc0" }),
          text("H3K9me3", 438, 953, { textAlign: "right", fill: "#3f4fa8" }),
          text("CTCF", 423, 977, { textAlign: "right", fill: "#4f8a3a" }),
        ],
      },
    };

    chart.setOption(option);

    return () => {
      chart.dispose();
    };
  }, []);

  return (
    <div
      ref={chartRef}
      style={{ position: "fixed", left: 0, top: 0, width: 776, height: 993, background: "#fff" }}
    ></div>
  );
};

export default App;
